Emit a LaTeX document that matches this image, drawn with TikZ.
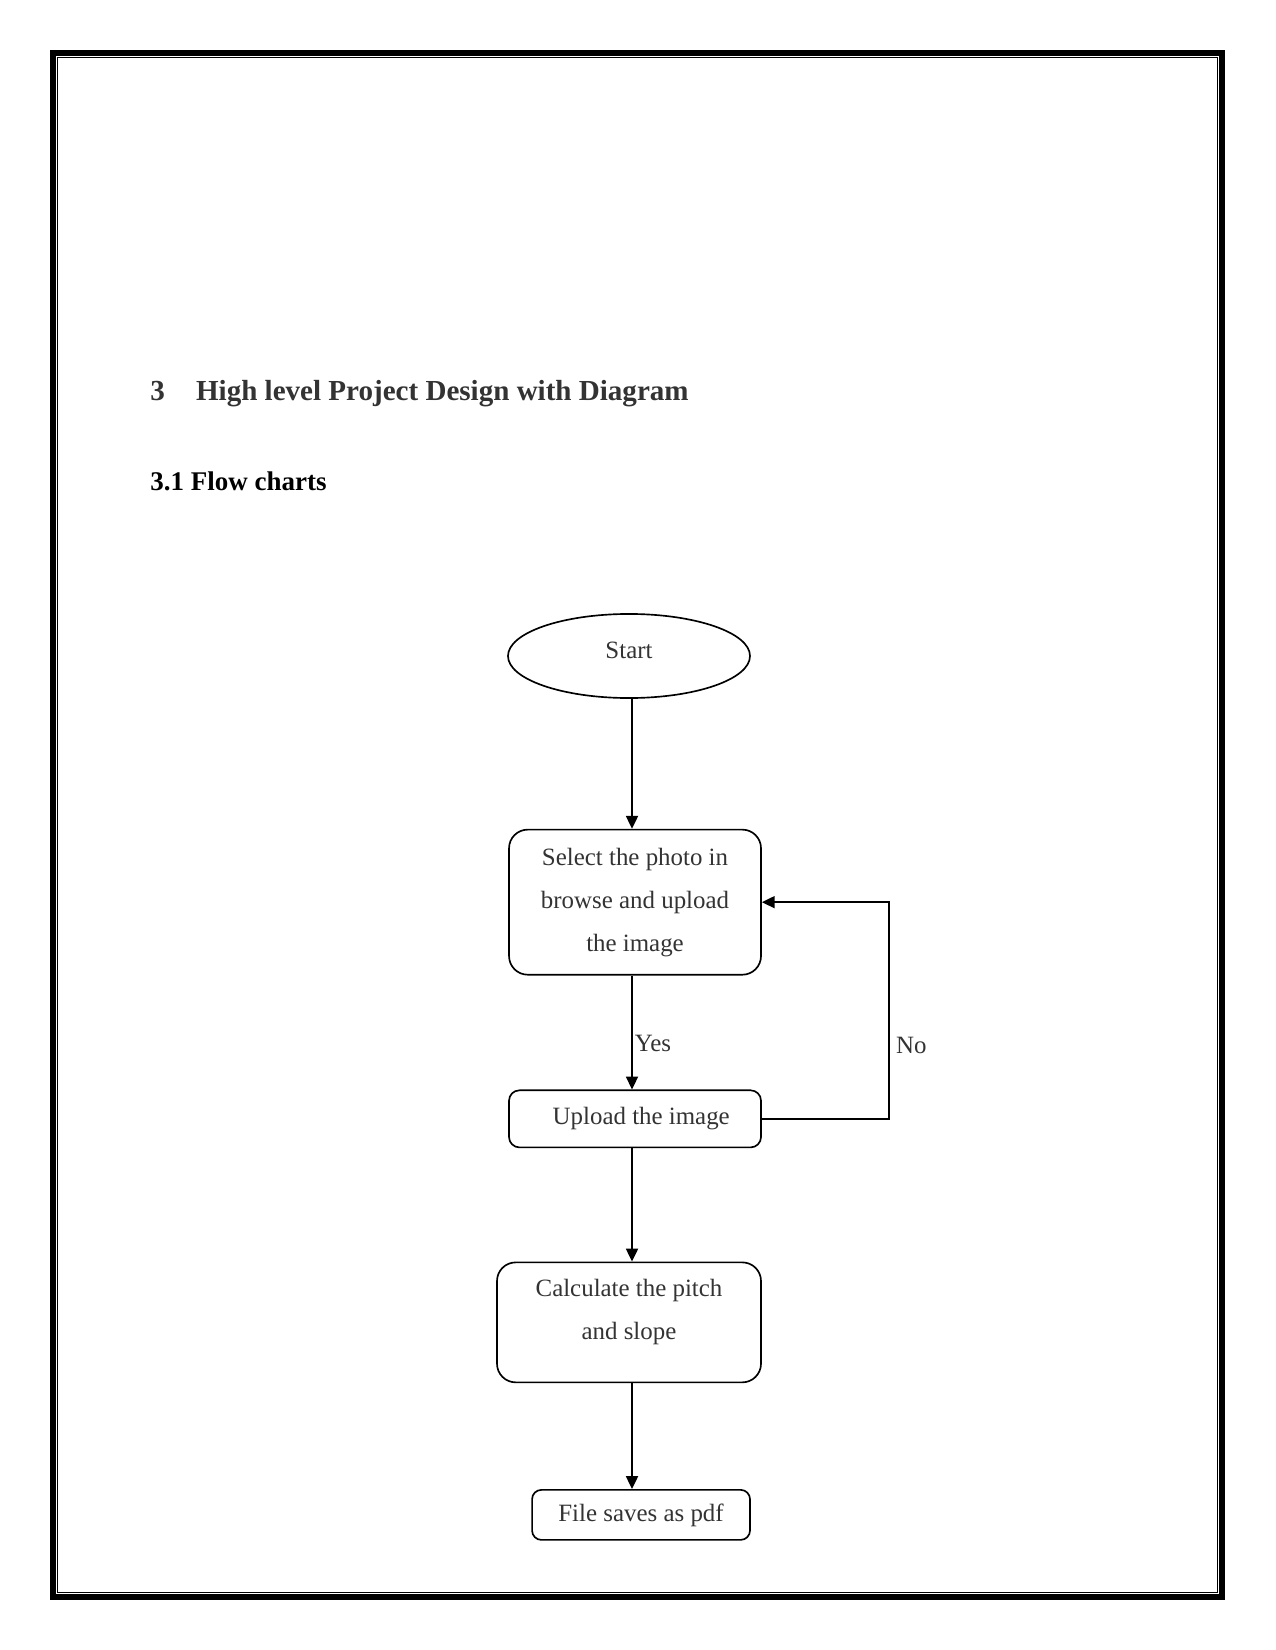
\documentclass[tikz,border=0pt]{standalone}
\usepackage{fontspec}
\setmainfont{Liberation Serif}
\usetikzlibrary{positioning,shapes.geometric,arrows.meta}
\definecolor{Ink}{HTML}{333333}
\definecolor{Frame}{HTML}{000000}

\begin{document}
\begin{tikzpicture}[x=0.4818pt,y=-0.4818pt, node distance=.25cm, every node/.style={align=center},
    >={Triangle[length=6.2pt,width=5.8pt]},
    term/.style={draw,ellipse,line width=.8pt,inner sep=0pt,minimum width=116.6pt,minimum height=40.5pt,text=Ink,font=\fontsize{12}{20.7}\selectfont},
    proc/.style={draw,rounded corners=9pt,line width=.8pt,inner sep=0pt,text=Ink,font=\fontsize{12}{20.7}\selectfont},
    flow/.style={line width=.8pt,->}]
        \useasboundingbox (0,0) rectangle (1275,1650);
        % page frame
        \draw[Frame,line width=2.9pt] (53,53) rectangle (1222,1597);
        \draw[Frame,line width=.5pt] (57.5,57.5) rectangle (1217,1592);
        % headings
        \node[anchor=base west,inner sep=0pt,text=Ink,font=\fontsize{14}{17}\selectfont\bfseries] (sec) at (150,401) {3\hspace{15pt}High level Project Design with Diagram};
        \node[anchor=base west,inner sep=0pt,font=\fontsize{13}{16}\selectfont\bfseries] (subsec) at (150,491) {3.1 Flow charts};
        % flow chart
        \node[term,text depth=6pt] (start) at (629,656) {Start};
        \node[proc,minimum width=121.4pt,minimum height=69.9pt,below=62.6pt of start,xshift=2.9pt] (select) {Select the photo in\\browse and upload\\the image};
        \node[proc,rounded corners=5pt,minimum width=121.4pt,minimum height=27.5pt,below=54.9pt of select] (upload) {\hspace{6pt}Upload the image};
        \node[proc,minimum width=127.2pt,minimum height=57.8pt,below=54.6pt of upload,xshift=-2.9pt] (calc) {Calculate the pitch\\and slope\\[-8pt]};
        \node[proc,rounded corners=4.5pt,minimum width=105pt,minimum height=24.1pt,below=51pt of calc,xshift=5.8pt] (save) {File saves as pdf};
        \coordinate (spine) at (632,0);
        \coordinate (loop) at (889,0);
        \draw[flow] (start.south -| spine) -- (select.north -| spine);
        \draw[flow] (select.south -| spine) -- node[pos=.6,right,inner sep=1pt,text=Ink,font=\fontsize{12}{14}\selectfont] (yes) {Yes} (upload.north -| spine);
        \draw[flow] (upload.south -| spine) -- (calc.north -| spine);
        \draw[flow] (calc.south -| spine) -- (save.north -| spine);
        \draw[flow] (upload.east) -- (upload.east -| loop) -- node[pos=.34,right,inner sep=3pt,text=Ink,font=\fontsize{12}{14}\selectfont] (no) {No} (select.east -| loop) -- (select.east);
      \end{tikzpicture}
\end{document}
